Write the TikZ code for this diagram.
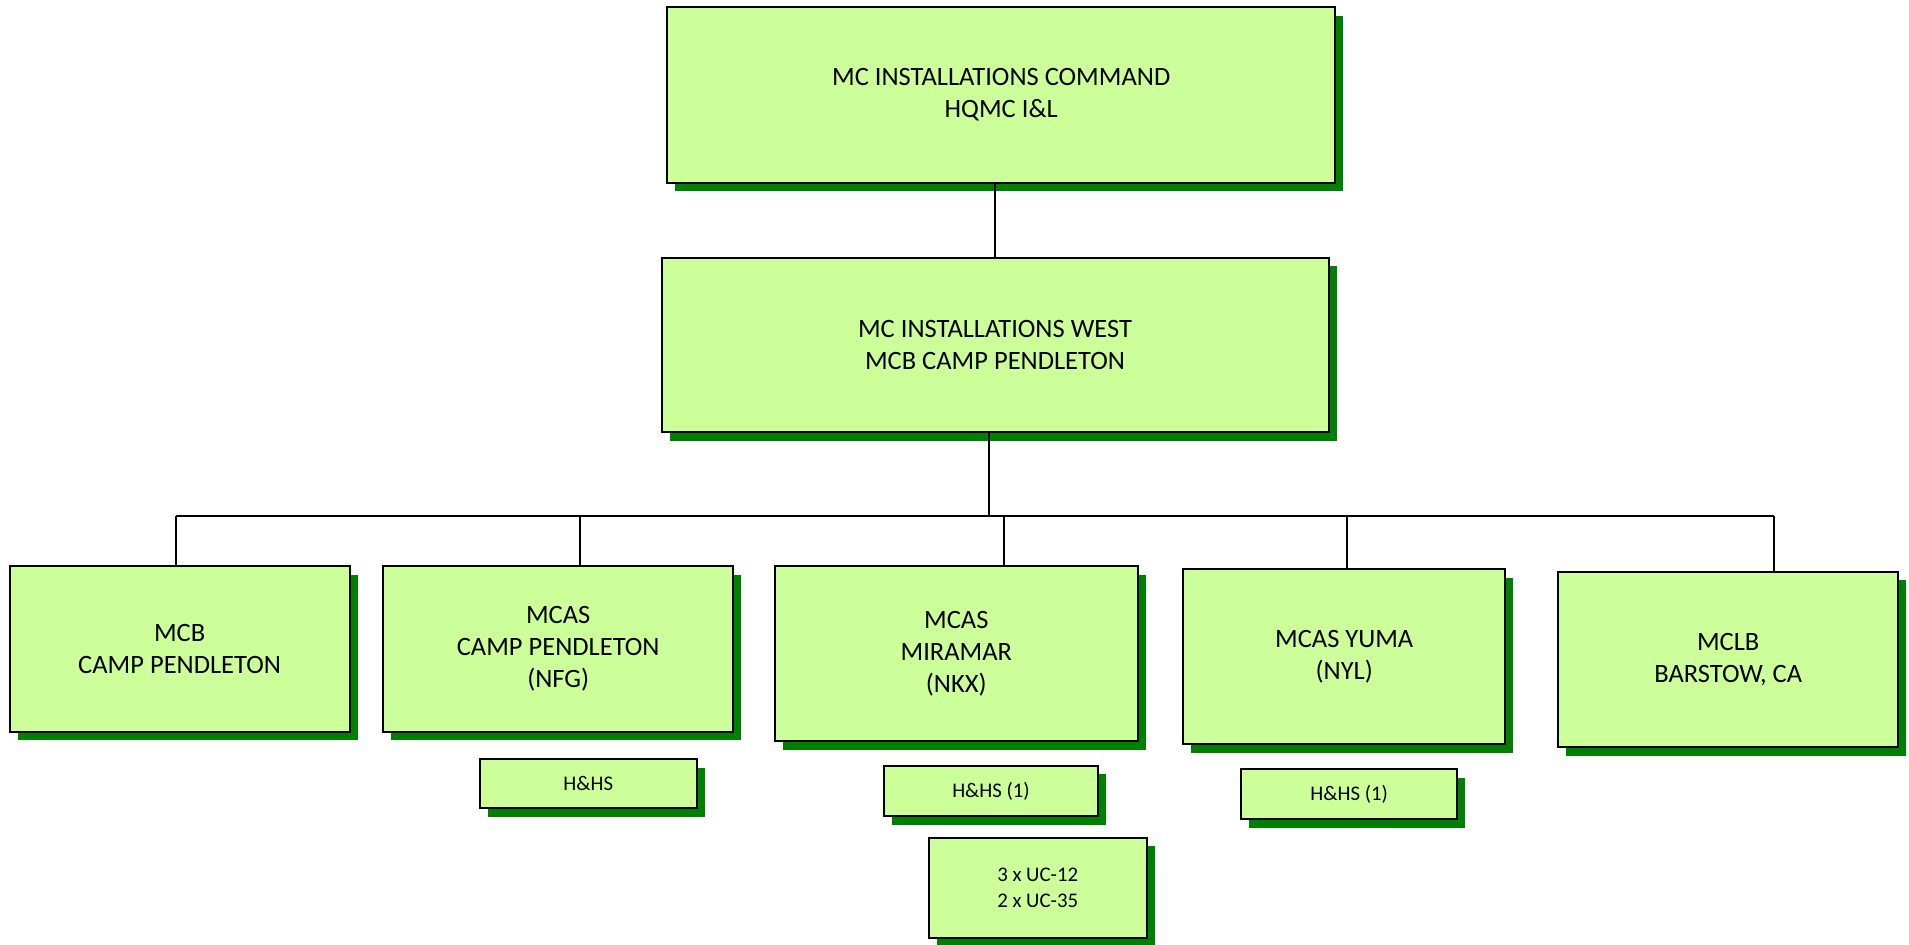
\documentclass[tikz,border=0pt]{standalone}
\usepackage{fontspec}
\setmainfont{Carlito}
\usetikzlibrary{shadows}
\definecolor{boxfill}{HTML}{CCFF99}
\definecolor{shgreen}{HTML}{008000}
\begin{document}
\begin{tikzpicture}[x=0.5pt,y=-0.5pt,
  sz/.style 2 args={minimum width=#1*0.5pt, minimum height=#2*0.5pt},
  orgbox/.style={draw=black, line width=1pt, fill=boxfill, inner sep=0pt,
    align=center, font=\fontsize{13.25}{16}\selectfont,
    general shadow={fill=shgreen, shadow xshift=4pt, shadow yshift=-4.3pt}},
  smallbox/.style={orgbox, font=\fontsize{10.4}{12.8}\selectfont},
  conn/.style={draw=black, line width=1pt}]
\useasboundingbox (0,0) rectangle (1909,945);

\node[orgbox, sz={667.6}{175.4}] (top) at (1001.2,95) {MC INSTALLATIONS COMMAND\\HQMC I\&L};
\node[orgbox, sz={667}{174.6}] (west) at (995,345) {MC INSTALLATIONS WEST\\MCB CAMP PENDLETON};

\node[orgbox, sz={339.8}{165.7}] (mcb) at (179.6,648.9) {MCB\\CAMP PENDLETON};
\node[orgbox, sz={350.4}{165.7}] (cp) at (558.2,648.9) {MCAS\\CAMP PENDLETON\\(NFG)};
\node[orgbox, sz={363.5}{175}] (mir) at (956.3,653.5) {MCAS\\MIRAMAR\\(NKX)};
\node[orgbox, sz={321.7}{175}] (yuma) at (1344.2,656.8) {MCAS YUMA\\(NYL)};
\node[orgbox, sz={340.3}{175.3}] (mclb) at (1728.2,659.4) {MCLB\\BARSTOW, CA};

\node[smallbox, sz={216.6}{49}] (hhscp) at (588.3,783.5) {H\&HS};
\node[smallbox, sz={214.7}{50.3}] (hhsmir) at (991,790.9) {H\&HS (1)};
\node[smallbox, sz={218}{100}] (uc) at (1037.7,887.7) {3 x UC-12\\2 x UC-35};
\node[smallbox, sz={215.7}{50.3}] (hhsyuma) at (1349.2,794.2) {H\&HS (1)};

\coordinate (bus) at (988.8,516.3);
\coordinate (d1) at (176,516.3);
\coordinate (d2) at (579.7,516.3);
\coordinate (d3) at (1003.8,516.3);
\coordinate (d4) at (1346.5,516.3);
\coordinate (d5) at (1774.3,516.3);

\draw[conn] (west.north) -- (west.north |- top.south);
\draw[conn] (west.south -| bus) -- (bus);
\draw[conn] (d1) -- (d5);
\draw[conn] (d1) -- (d1 |- mcb.north);
\draw[conn] (d2) -- (d2 |- cp.north);
\draw[conn] (d3) -- (d3 |- mir.north);
\draw[conn] (d4) -- (d4 |- yuma.north);
\draw[conn] (d5) -- (d5 |- mclb.north);
\end{tikzpicture}
\end{document}
